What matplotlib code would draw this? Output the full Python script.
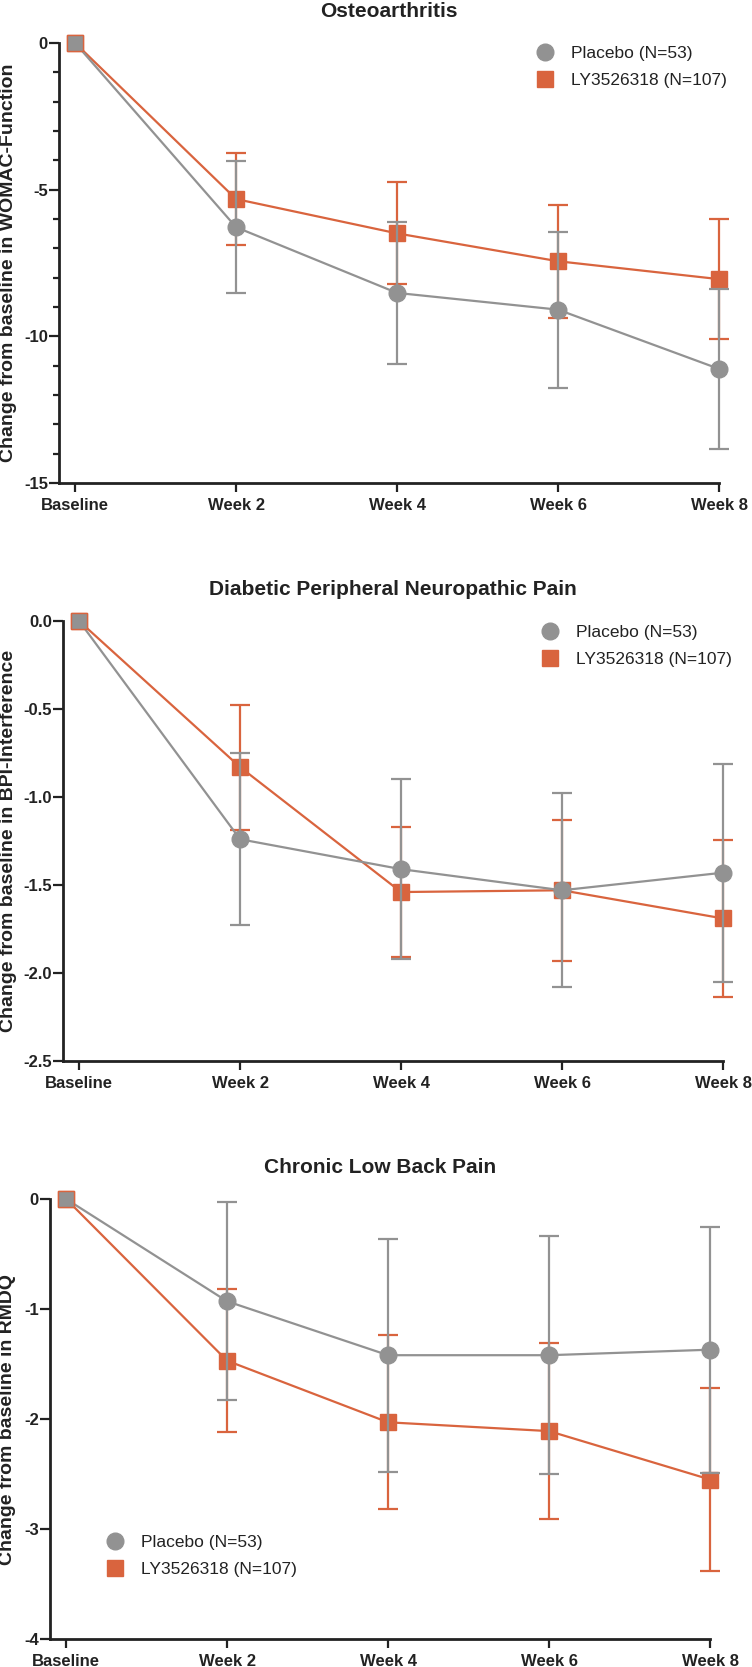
import matplotlib
matplotlib.use("Agg")
import matplotlib.pyplot as plt
from matplotlib.lines import Line2D
from matplotlib.ticker import MultipleLocator, FormatStrFormatter

plt.rcParams["font.family"] = ["Liberation Sans", "DejaVu Sans"]
plt.rcParams["font.weight"] = "bold"
plt.rcParams["axes.unicode_minus"] = False
plt.rcParams["text.color"] = "#222222"

GRAY = "#929292"
ORANGE = "#D9643E"
INK = "#222222"

# data
time_labels = ["Baseline", "Week 2", "Week 4", "Week 6", "Week 8"]
weeks = [0, 1, 2, 3, 4]

# Osteoarthritis (WOMAC-Function)
oa_placebo = [0, -6.28, -8.52, -9.09, -11.11]
oa_placebo_err = [0, 2.25, 2.42, 2.66, 2.74]
oa_ly = [0, -5.32, -6.49, -7.44, -8.05]
oa_ly_err = [0, 1.58, 1.74, 1.93, 2.04]

# Diabetic peripheral neuropathic pain (BPI-Interference)
dpnp_placebo = [0, -1.24, -1.41, -1.53, -1.43]
dpnp_placebo_err = [0, 0.49, 0.51, 0.55, 0.62]
dpnp_ly = [0, -0.83, -1.54, -1.53, -1.69]
dpnp_ly_err = [0, 0.355, 0.37, 0.40, 0.445]

# Chronic low back pain (RMDQ)
clbp_placebo = [0, -0.93, -1.42, -1.42, -1.37]
clbp_placebo_err = [0, 0.90, 1.06, 1.08, 1.12]
clbp_ly = [0, -1.47, -2.03, -2.11, -2.55]
clbp_ly_err = [0, 0.65, 0.79, 0.80, 0.83]

placebo_label = "Placebo (N=53)"
ly_label = "LY3526318 (N=107)"

W, H = 752, 1667
fig = plt.figure(figsize=(W / 100, H / 100), dpi=100)

panels = [
    dict(title="Osteoarthritis", ylabel="Change from baseline in WOMAC-Function",
         pl=oa_placebo, pl_err=oa_placebo_err, ly=oa_ly, ly_err=oa_ly_err,
         ymin=-15, major=5, minor=1, fmt=None,
         box=(59, 43, 483), label_x=-0.064, leg=(536, 46)),
    dict(title="Diabetic Peripheral Neuropathic Pain", ylabel="Change from baseline in BPI-Interference",
         pl=dpnp_placebo, pl_err=dpnp_placebo_err, ly=dpnp_ly, ly_err=dpnp_ly_err,
         ymin=-2.5, major=0.5, minor=None, fmt="%.1f",
         box=(63, 621, 1061), label_x=-0.070, leg=(541, 625)),
    dict(title="Chronic Low Back Pain", ylabel="Change from baseline in RMDQ",
         pl=clbp_placebo, pl_err=clbp_placebo_err, ly=clbp_ly, ly_err=clbp_ly_err,
         ymin=-4, major=1, minor=None, fmt=None,
         box=(50, 1199, 1639), label_x=-0.052, leg=(106, 1535)),
]

for p in panels:
    left, top, bottom = p["box"]
    ax = fig.add_axes([left / W, 1 - bottom / H, 660 / W, (bottom - top) / H])

    style = dict(ms=12, lw=1.6, elinewidth=1.6, capsize=7, capthick=1.6, errorevery=(1, 1))
    c1 = ax.errorbar(weeks, p["ly"], yerr=p["ly_err"], color=ORANGE, marker="s",
                     mec=ORANGE, zorder=3, **style)
    c2 = ax.errorbar(weeks, p["pl"], yerr=p["pl_err"], color=GRAY, marker="o",
                     mec=GRAY, markevery=[1, 2, 3, 4], zorder=4, **style)
    # baseline point: grey square outlined in orange
    ax.plot(weeks[0], p["pl"][0], marker="s", ms=12, mfc=GRAY, mec=ORANGE,
            mew=1.0, ls="none", zorder=5, clip_on=False)
    for c in (c1, c2):
        for art in c.get_children():
            art.set_clip_on(False)

    ax.set_xlim(-0.1, 4)
    ax.set_ylim(p["ymin"], 0)
    ax.set_xticks(weeks, time_labels, fontsize=12, fontweight="bold")
    ax.yaxis.set_major_locator(MultipleLocator(p["major"]))
    if p["minor"]:
        ax.yaxis.set_minor_locator(MultipleLocator(p["minor"]))
    if p["fmt"]:
        ax.yaxis.set_major_formatter(FormatStrFormatter(p["fmt"]))
    ax.tick_params(axis="x", length=6.5, width=1.6, pad=4, colors=INK, labelsize=12)
    ax.tick_params(axis="y", which="major", length=7, width=1.6, pad=1, colors=INK, labelsize=12)
    ax.tick_params(axis="y", which="minor", length=4.5, width=1.6, colors=INK)

    for s in ("top", "right"):
        ax.spines[s].set_visible(False)
    for s in ("left", "bottom"):
        ax.spines[s].set_linewidth(2.0)
        ax.spines[s].set_color(INK)

    ax.set_title(p["title"], fontsize=15, fontweight="bold", pad=19, color=INK)
    ax.set_ylabel(p["ylabel"], fontsize=14, fontweight="bold", color=INK)
    ax.yaxis.set_label_coords(p["label_x"], 0.5)

    handles = [
        Line2D([], [], ls="none", marker="o", ms=12, color=GRAY),
        Line2D([], [], ls="none", marker="s", ms=12, color=ORANGE),
    ]
    lx, ly_ = p["leg"]
    ax.legend(handles, [placebo_label, ly_label], loc="upper left",
              bbox_to_anchor=(lx / W, 1 - ly_ / H), bbox_transform=fig.transFigure,
              frameon=False, borderpad=0, borderaxespad=0, handlelength=1.0,
              handletextpad=1.0, labelspacing=0.7,
              prop={"size": 12.5, "weight": "normal"})

fig.savefig("out.png", dpi=100)
